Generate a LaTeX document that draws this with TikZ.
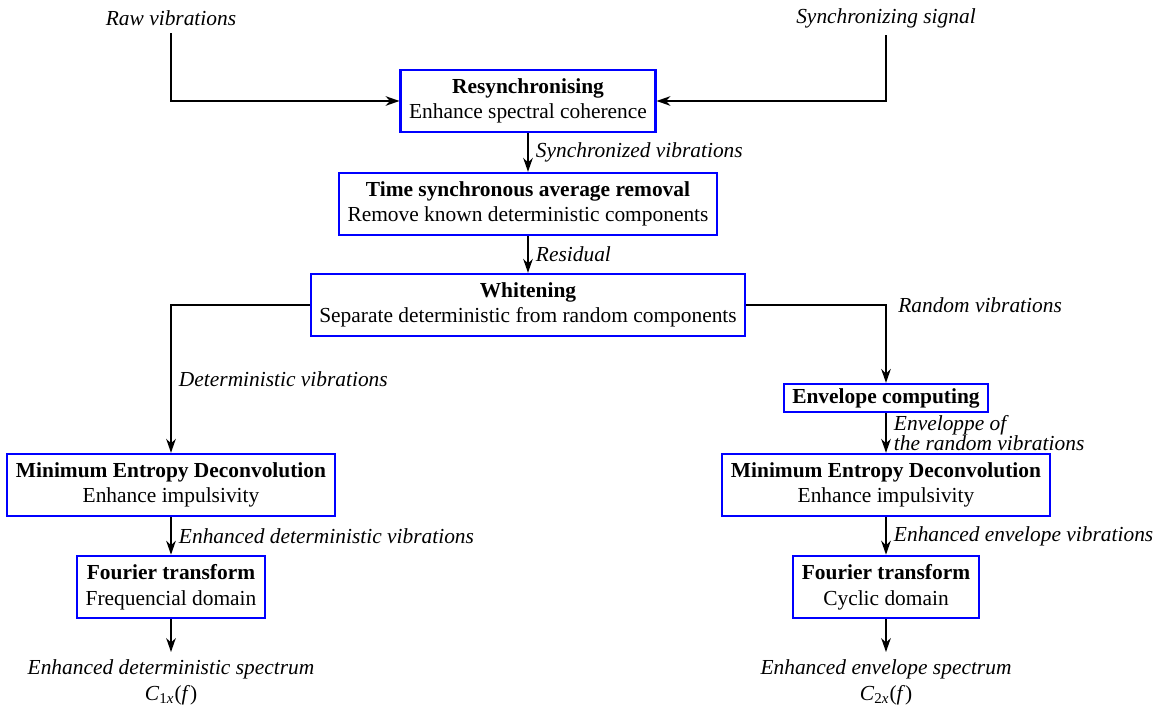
\documentclass[tikz,border=0pt]{standalone}
\usepackage{fontspec}
\setmainfont{Liberation Serif}
\usepackage{tikz}
\usetikzlibrary{arrows.meta, positioning}
\tikzset{block/.style={rectangle,draw=blue,line width=1pt,fill=white,align=center,inner xsep=4pt,inner ysep=4pt},
         signal/.style={font=\itshape,align=center},
         lbl/.style={font=\itshape,anchor=west,align=left},
         arrow/.style={-{Stealth[length=6.5pt,width=4.5pt]},thick}}
\begin{document}
\begin{tikzpicture}[x=0.467pt,y=-0.467pt]
    \useasboundingbox (0,0) rectangle (1159,707);
    % inputs
    \node (raw) [signal] at (171,18) {Raw vibrations};
    \node (sync) [signal] at (886,18) {Synchronizing signal};
    % main chain
    \node (resync) [block] at (528,101) {\textbf{Resynchronising}\\Enhance spectral coherence};
    \node (tsa) [block] at (528,204) {\textbf{Time synchronous average removal}\\Remove known deterministic components};
    \node (whiten) [block] at (528,305) {\textbf{Whitening}\\Separate deterministic from random components};
    % deterministic branch
    \node (medL) [block] at (171,485) {\textbf{Minimum Entropy Deconvolution}\\Enhance impulsivity};
    \node (ftL) [block] at (171,587) {\textbf{Fourier transform}\\Frequencial domain};
    \node (outL) [signal, anchor=north] at (171,652) {Enhanced deterministic spectrum\\{\upshape\textit{C}\textsubscript{1\textit{x}}(\textit{f})}};
    % random branch
    \node (env) [block, inner ysep=2pt] at (886,398) {\textbf{Envelope computing}};
    \node (medR) [block] at (886,485) {\textbf{Minimum Entropy Deconvolution}\\Enhance impulsivity};
    \node (ftR) [block] at (886,587) {\textbf{Fourier transform}\\Cyclic domain};
    \node (outR) [signal, anchor=north] at (886,652) {Enhanced envelope spectrum\\{\upshape\textit{C}\textsubscript{2\textit{x}}(\textit{f})}};

    \draw[arrow] (raw.south) |- (resync.west);
    \draw[arrow] (sync.south) |- (resync.east);
    \draw[arrow] (resync.south) -- node[lbl]{Synchronized vibrations} (tsa.north);
    \draw[arrow] (tsa.south) -- node[lbl]{Residual} (whiten.north);
    \draw[arrow] (whiten.west) -| node[lbl,pos=0.75]{Deterministic vibrations} (medL.north);
    \draw[arrow] (whiten.east) -| node[lbl,pos=0.5,xshift=2pt]{Random vibrations} (env.north);
    \draw[arrow] (env.south) -- node[lbl,inner ysep=0pt]{Enveloppe of\\[-2.5pt]the random vibrations} (medR.north);
    \draw[arrow] (medL.south) -- node[lbl]{Enhanced deterministic vibrations} (ftL.north);
    \draw[arrow] (medR.south) -- node[lbl]{Enhanced envelope vibrations} (ftR.north);
    \draw[arrow] (ftL.south) -- (outL.north);
    \draw[arrow] (ftR.south) -- (outR.north);
\end{tikzpicture}
\end{document}
